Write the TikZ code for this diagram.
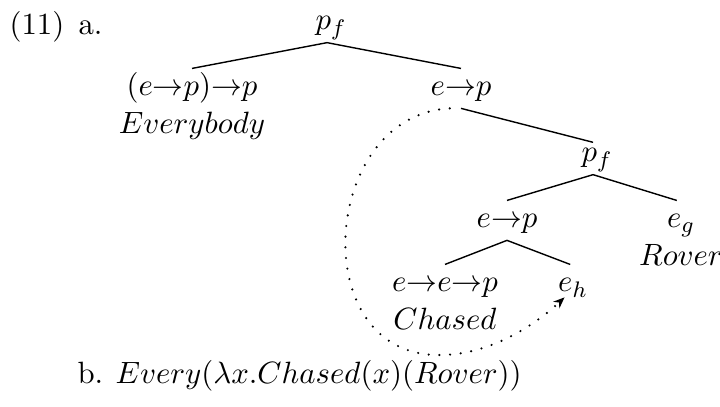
\documentclass[11pt,tikz,border=0pt]{standalone}
\usetikzlibrary{arrows.meta}
\newcommand{\typarr}{\mathord{\rightarrow}}

\begin{document}
\begin{tikzpicture}[x=0.0125cm, y=-0.0125cm,
    typenode/.style={anchor=base, inner sep=0pt, text height=9.6pt, text depth=4.2pt},
    pfnode/.style={anchor=base, inner sep=0pt, text height=6.8pt, text depth=4.3pt},
    wordnode/.style={anchor=base, inner sep=0pt},
    plain/.style={anchor=base west, inner sep=0pt},
    branch/.style={line width=0.5pt},
    movearrow/.style={line width=0.85pt, line cap=round, dash pattern=on 0pt off 3.8pt,
                      -{Stealth[length=4pt, width=3.2pt]}}]
    \useasboundingbox (0,0) rectangle (720,407);
    % example labels
    \node[plain] (exnum) at (9,35) {(11)};
    \node[plain] (exa) at (78,35) {a.};
    \node[plain] (exb) at (77,384) {b.};
    \node[plain] (exform) at (115,384) {$Every(\lambda x.Chased(x)(Rover))$};
    % tree
    \node[pfnode] (root) at (331,30) {$p_f$};
    \node[typenode] (subj) at (192,96) {$(e\typarr p)\typarr p$};
    \node[wordnode] (everybody) at ([yshift=-13.2pt]subj.base) {$Everybody$};
    \node[typenode] (vp) at (461,96) {$e\typarr p$};
    \node[pfnode] (pf) at (597,162) {$p_f$};
    \node[typenode] (vbar) at (507,228) {$e\typarr p$};
    \node[typenode] (obj) at (681,228) {$e_g$};
    \node[wordnode] (rover) at ([yshift=-13.2pt]obj.base) {$Rover$};
    \node[typenode] (verb) at (445,292) {$e\typarr e\typarr p$};
    \node[wordnode] (chased) at ([yshift=-13.2pt]verb.base) {$Chased$};
    \node[typenode] (trace) at (573,292) {$e_h$};
    % branches
    \draw[branch] ([xshift=-1.4pt]root.south) -- (subj.north);
    \draw[branch] ([xshift=-1.4pt]root.south) -- (vp.north);
    \draw[branch] (vp.south) -- ([xshift=-1.4pt]pf.north);
    \draw[branch] ([xshift=-1.4pt]pf.south) -- (vbar.north);
    \draw[branch] ([xshift=-1.4pt]pf.south) -- ([xshift=-1.5pt]obj.north);
    \draw[branch] (vbar.south) -- (verb.north);
    \draw[branch] (vbar.south) -- ([xshift=-1pt]trace.north);
    % movement
    \draw[movearrow] ([xshift=-4pt]vp.south) .. controls (320,115) and (305,357) .. (440,355)
        .. controls (490,355) and (535,325) .. ([shift={(-3pt,2.5pt)}]trace.south);
\end{tikzpicture}
\end{document}
